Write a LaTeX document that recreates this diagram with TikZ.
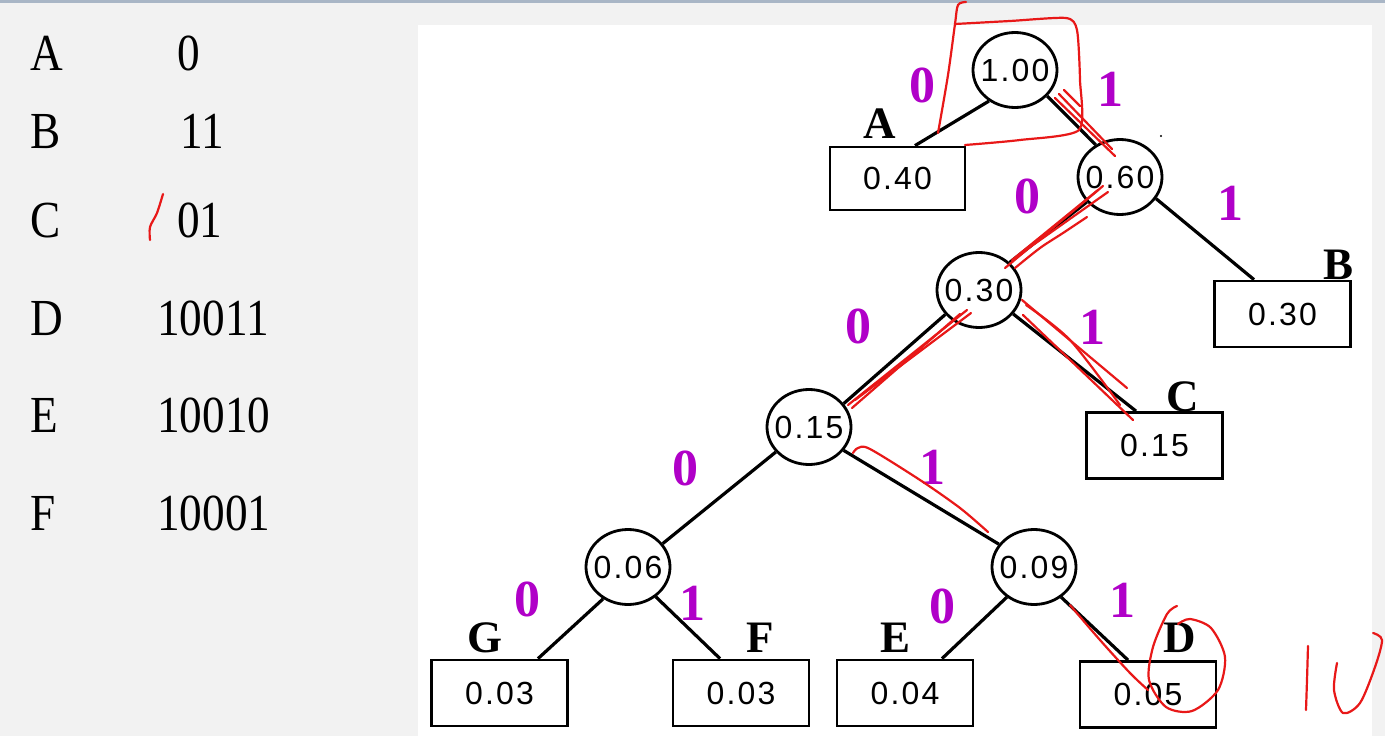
\documentclass[tikz,border=0pt]{standalone}
\usepackage{fontspec}
\setmainfont{Liberation Serif}
\newfontfamily\tabfont[FakeStretch=0.87]{Liberation Serif}
\newfontfamily\numfont[LetterSpace=7]{Liberation Sans}
\usetikzlibrary{shapes.geometric,calc}
\definecolor{bg}{HTML}{F2F2F2}
\definecolor{pur}{HTML}{B000C8}
\definecolor{ink}{HTML}{E81818}
\definecolor{bar}{HTML}{A9B6C6}
\begin{document}
\begin{tikzpicture}[x=1pt,y=-1pt,
 circ/.style={draw,line width=2.8pt,ellipse,minimum width=84pt,minimum height=75pt,inner xsep=-12pt,inner ysep=0pt,font=\numfont\fontsize{32}{32}\selectfont},
 leaf/.style={draw,line width=2.8pt,rectangle,minimum width=136pt,minimum height=66pt,inner sep=0pt,font=\numfont\fontsize{32}{32}\selectfont},
 edge/.style={line width=3.2pt},
 bit/.style={font=\bfseries\fontsize{52}{52}\selectfont,text=pur,inner sep=0pt},
 tag/.style={font=\bfseries\fontsize{45}{45}\selectfont,inner sep=0pt},
 tab/.style={font=\tabfont\fontsize{52}{52}\selectfont,anchor=base west,inner sep=0pt},
 pen/.style={ink,line width=2.2pt,line cap=round,line join=round}]
\useasboundingbox (0,0) rectangle (1385,736);
\fill[bg] (0,0) rectangle (1385,736);
\fill[bar] (0,0) rectangle (1385,3);
\fill[white] (418,25) rectangle (1372,736);

% code table
\node[tab] (tA) at (30,70) {A};   \node[tab] (cA) at (177,70) {0};
\node[tab] (tB) at (30,148) {B};  \node[tab] (cB) at (180,148) {11};
\node[tab] (tC) at (30,237) {C};  \node[tab] (cC) at (177,237) {01};
\node[tab] (tD) at (30,335) {D};  \node[tab] (cD) at (157,335) {10011};
\node[tab] (tE) at (30,432) {E};  \node[tab] (cE) at (157,432) {10010};
\node[tab] (tF) at (30,530) {F};  \node[tab] (cF) at (157,530) {10001};

% internal nodes
\node[circ] (n100) at (1015,70) {1.00};
\node[circ] (n60) at (1120,177) {0.60};
\node[circ] (n30) at (979,290) {0.30};
\node[circ] (n15) at (809,427) {0.15};
\node[circ] (n06) at (628,567) {0.06};
\node[circ] (n09) at (1034,567) {0.09};

% leaves
\node[leaf,minimum height=63pt,minimum width=135pt] (A) at (897.5,178.5) {0.40};
\node[leaf] (B) at (1282.5,314) {0.30};
\node[leaf] (C) at (1154.5,445.5) {0.15};
\node[leaf] (G) at (499.5,693) {0.03};
\node[leaf] (F) at (741,693) {0.03};
\node[leaf] (E) at (905,693) {0.04};
\node[leaf] (D) at (1148,694.5) {0.05};

% leaf letters
\node[tag] (lA) at (880,124) {A};
\node[tag] (lB) at (1338,265) {B};
\node[tag] (lC) at (1183,397) {C};
\node[tag] (lG) at (485,638) {G};
\node[tag] (lF) at (760,638) {F};
\node[tag] (lE) at (895,638) {E};
\node[tag] (lD) at (1180,638) {D};

% edges
\draw[edge] (n100.230) -- ([xshift=17.5pt]A.north);
\draw[edge] (n100.321) -- (n60.127);
\draw[edge] (n60.329) -- ([xshift=-28.5pt]B.north);
\draw[edge] (n60.217) -- (n30.42);
\draw[edge] (n30.325) -- ([xshift=-18.5pt]C.north);
\draw[edge] (n30.216) -- (n15.34);
\draw[edge] (n15.217) -- (n06.34);
\draw[edge] (n15.326) -- (n09.147);
\draw[edge] (n06.232) -- ([xshift=38.5pt]G.north);
\draw[edge] (n06.313) -- ([xshift=-21pt]F.north);
\draw[edge] (n09.228) -- ([xshift=37pt]E.north);
\draw[edge] (n09.312) -- ([xshift=-20pt]D.north);

% bit labels
\node[bit] (b1) at (922,85) {0};  \node[bit] (b2) at (1110,89) {1};
\node[bit] (b3) at (1027,196) {0}; \node[bit] (b4) at (1230,203) {1};
\node[bit] (b5) at (858,326) {0};  \node[bit] (b6) at (1092,327) {1};
\node[bit] (b7) at (685,468) {0};  \node[bit] (b8) at (932,467) {1};
\node[bit] (b9) at (527,599) {0};  \node[bit] (b10) at (692,603) {1};
\node[bit] (b11) at (942,606) {0}; \node[bit] (b12) at (1122,600) {1};

\fill (1161,136) circle (1.2pt);

% red handwriting
\draw[pen] plot[smooth] coordinates {(966,2) (958,5) (955,24) (948,75) (938,133)};
\draw[pen] plot[smooth,tension=0.4] coordinates {(955,24) (1010,21) (1066,18) (1077,30) (1080,80) (1079,130) (1020,140) (965,145)};
\draw[pen] (1055,98) -- (1115,156);
\draw[pen] (1059,94) -- (1112,149);
\draw[pen] (1064,90) -- (1080,106);
\draw[pen] (1103,186) -- (1005,268);
\draw[pen] (1098,190) -- (1012,260);
\draw[pen] (1108,192) -- (1016,257);
\draw[pen] plot[smooth] coordinates {(1087,217) (1063,233) (1040,248) (1015,268)};
\draw[pen] (967,310) -- (848,405);
\draw[pen] (960,314) -- (852,408);
\draw[pen] (971,313) -- (855,400);
\draw[pen] (1022,300) -- (1127,388);
\draw[pen] (1023,315) -- (1133,420);
\draw[pen] plot[smooth] coordinates {(1026,305) (1070,340) (1120,405)};
\draw[pen] plot[smooth] coordinates {(853,453) (858,448) (870,449) (920,480) (960,508) (988,532)};
\draw[pen] plot[smooth] coordinates {(1070,605) (1100,640) (1130,673) (1148,690)};
\draw[pen] plot[smooth] coordinates {(1177,606) (1167,614) (1153,647) (1149,680) (1166,707) (1192,711) (1218,690) (1225,657) (1211,628) (1190,619) (1178,624)};
\draw[pen] plot[smooth] coordinates {(1308,646) (1307,680) (1306,710)};
\draw[pen] plot[smooth] coordinates {(1337,663) (1334,690) (1343,713) (1360,703) (1375,667) (1382,640) (1373,633)};
\draw[pen] plot[smooth] coordinates {(163,194) (157,213) (150,227) (150,240)};
\end{tikzpicture}
\end{document}
